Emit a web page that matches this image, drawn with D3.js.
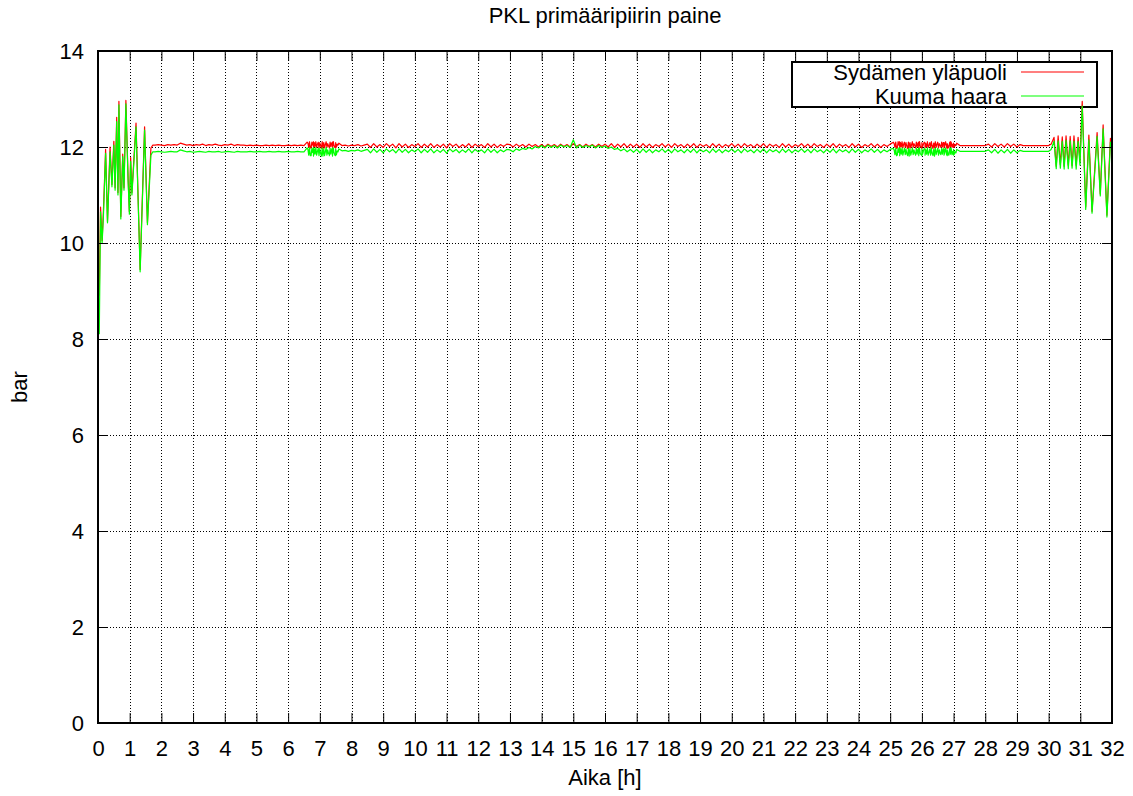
<!DOCTYPE html>
<html><head><meta charset="utf-8">
<script src="https://cdn.jsdelivr.net/npm/d3@7"></script>
<style>
body{margin:0;background:#fff}
text{font-family:"Liberation Sans",Arial,Helvetica,sans-serif;fill:#000}
</style>
</head><body>
<svg id="c" width="1133" height="796"></svg>
<script>
// ---------- labels ----------
const titleText = "PKL primääripiirin paine";
const xLabelText = "Aika [h]";
const yLabelText = "bar";
const seriesNames = ["Sydämen yläpuoli", "Kuuma haara"];
const seriesColors = ["#ff0000", "#00ff00"];

// ---------- ticks ----------
const xTickValues = [0,1,2,3,4,5,6,7,8,9,10,11,12,13,14,15,16,17,18,19,20,21,22,23,24,25,26,27,28,29,30,31,32];
const yTickValues = [0,2,4,6,8,10,12,14];

// ---------- start-up transient (0 - 1.75 h) ----------
const earlyTime  = [0.04,0.08,0.13,0.17,0.24,0.30,0.38,0.44,0.50,0.54,0.59,0.63,0.66,0.72,0.78,0.82,0.88,0.95,0.99,1.03,1.07,1.20,1.33,1.47,1.56,1.67,1.73];
const earlyRed   = [8.90,10.75,10.05,10.65,11.95,10.45,12.00,11.22,12.12,11.15,12.62,11.05,12.95,10.55,11.85,11.15,12.97,11.35,10.65,11.78,11.05,12.50,9.45,12.42,10.42,11.98,12.04];
const earlyGreen = [8.10,10.65,10.00,10.55,11.87,10.42,11.90,11.17,12.04,11.10,12.53,11.00,12.88,10.50,11.80,11.10,12.90,11.30,10.60,11.70,11.00,12.42,9.40,12.35,10.38,11.83,11.90];

// ---------- steady run, sampled every 0.1 h from 1.8 h to 30.0 h ----------
const midStart = 1.8, midStep = 0.1;
const midRed = [
 12.04,12.05,12.04,12.03,12.05,12.04,12.05,12.04,
 12.08,12.06,
 12.04,12.05,12.03,12.05,12.04,12.06,12.03,12.05,12.04,12.06,12.04,12.03,12.05,12.04,12.06,12.03,12.05,12.04,12.04,
 12.03,12.04,12.03,12.04,12.03,12.03,12.04,12.03,12.04,12.03,12.04,12.03,12.03,12.04,12.03,12.04,12.03,12.04,12.03,
 12.10,11.98,12.11,11.99,12.09,11.97,12.11,12.00,12.10,11.98,12.08,
 12.03,12.04,12.02,12.04,12.03,12.05,12.02,12.04,
 12.06,11.99,12.07,12.00,12.05,11.99,12.07,12.01,12.06,11.98,
 12.07,12.00,12.06,11.99,12.05,12.01,12.07,11.99,12.06,12.00,
 12.07,11.99,12.05,12.00,12.06,11.98,12.07,12.01,12.06,11.99,
 12.05,12.00,12.07,11.99,12.06,12.01,12.05,11.99,12.07,12.00,
 12.06,11.99,12.05,12.01,12.06,
 12.05,12.00,12.06,12.01,12.05,12.00,12.06,12.01,12.05,12.00,
 12.05,12.00,12.06,12.01,12.05,12.00,12.06,12.01,12.05,12.00,12.07,12.01,12.05,12.00,12.06,12.01,12.05,12.00,12.06,12.01,
 12.06,12.00,12.07,11.99,12.06,12.00,12.07,11.99,12.06,12.00,
 12.06,11.99,12.07,12.00,12.06,11.99,12.05,12.01,12.07,12.00,
 12.06,11.99,12.07,12.01,12.05,11.99,12.06,12.00,12.07,11.99,
 12.06,12.01,12.05,11.99,12.07,12.00,12.06,11.99,12.05,12.01,
 12.07,12.00,12.06,11.99,12.07,12.01,12.05,11.99,12.06,12.00,
 12.07,11.99,12.06,12.01,12.05,11.99,12.07,12.00,12.06,11.99,
 12.05,12.01,12.07,12.00,12.06,11.99,12.07,12.01,12.05,11.99,
 12.06,12.00,12.07,11.99,12.06,12.01,12.05,11.99,12.07,12.00,
 12.06,11.99,12.05,12.01,12.07,12.00,12.06,11.99,12.05,12.01,
 12.06,
 12.10,11.97,12.11,11.99,12.09,11.98,12.11,12.00,12.10,11.97,12.09,11.99,12.11,11.98,12.10,12.00,12.09,11.97,12.11,11.99,12.08,
 12.03,12.03,12.03,12.03,12.03,12.03,12.03,12.03,12.03,
 12.06,12.00,12.07,12.01,12.06,12.00,12.07,12.01,12.06,12.00,12.05,
 12.03,12.03,12.03,12.03,12.03,12.03,12.03,12.03,12.03
];
const midGreen = [
 11.90,11.91,11.90,11.89,11.90,11.91,11.90,11.90,
 11.94,11.92,
 11.90,11.91,11.89,11.90,11.91,11.90,11.89,11.91,11.90,11.90,11.91,11.89,11.90,11.91,11.90,11.89,11.91,11.90,11.90,
 11.90,11.91,11.90,11.90,11.91,11.90,11.90,11.91,11.90,11.90,11.91,11.90,11.90,11.91,11.90,11.90,11.91,11.90,11.90,
 11.98,11.82,11.99,11.83,11.97,11.81,11.99,11.84,11.98,11.82,11.96,
 11.92,11.93,11.91,11.93,11.92,11.94,11.91,11.93,
 11.95,11.88,11.96,11.89,11.95,11.88,11.96,11.90,11.95,11.88,
 11.96,11.89,11.95,11.88,11.94,11.90,11.96,11.88,11.95,11.89,
 11.96,11.88,11.94,11.89,11.95,11.87,11.96,11.90,11.95,11.88,
 11.94,11.89,11.96,11.88,11.95,11.90,11.94,11.88,11.96,11.89,
 11.95,11.88,11.94,11.90,11.95,
 11.94,11.90,11.96,11.93,11.97,11.95,11.99,11.96,12.01,11.98,
 12.03,11.98,12.04,11.99,12.03,11.98,12.04,12.00,12.03,11.99,12.15,11.98,12.04,11.99,12.03,12.00,12.04,11.98,12.03,11.99,
 12.02,11.97,12.00,11.95,11.97,11.92,11.96,11.90,11.95,11.89,
 11.95,11.88,11.96,11.89,11.95,11.88,11.94,11.90,11.96,11.89,
 11.95,11.88,11.96,11.90,11.94,11.88,11.95,11.89,11.96,11.88,
 11.95,11.90,11.94,11.88,11.96,11.89,11.95,11.88,11.94,11.90,
 11.96,11.89,11.95,11.88,11.96,11.90,11.94,11.88,11.95,11.89,
 11.96,11.88,11.95,11.90,11.94,11.88,11.96,11.89,11.95,11.88,
 11.94,11.90,11.96,11.89,11.95,11.88,11.96,11.90,11.94,11.88,
 11.95,11.89,11.96,11.88,11.95,11.90,11.94,11.88,11.96,11.89,
 11.95,11.88,11.94,11.90,11.96,11.89,11.95,11.88,11.94,11.90,
 11.95,
 11.97,11.82,11.98,11.83,11.96,11.81,11.98,11.84,11.97,11.82,11.96,11.83,11.98,11.81,11.97,11.84,11.96,11.82,11.98,11.83,11.95,
 11.91,11.91,11.91,11.91,11.91,11.91,11.91,11.91,11.91,
 11.94,11.88,11.95,11.87,11.94,11.88,11.95,11.87,11.94,11.88,11.93,
 11.91,11.91,11.91,11.91,11.91,11.91,11.91,11.91,11.91
];

// ---------- extra fast readings in the turbulent spells (every 0.025 h) ----------
const burstAStart = 6.625, burstBStart = 25.125, burstStep = 0.025;
const burstARed = [
 12.08,11.99,12.11,12.02,11.98,12.10,12.04,11.97,12.09,12.01,
 12.11,11.99,12.06,12.10,11.98,12.08,12.03,11.97,12.11,12.00,
 12.09,11.98,12.05,12.11,11.99,12.07,12.02,11.98,12.10,12.01,
 12.08,11.97,12.11,12.03,11.99,12.09,12.00,12.06,12.04
];
const burstAGreen = [
 11.95,11.83,11.99,11.86,11.82,11.97,11.88,11.81,11.96,11.85,
 11.99,11.83,11.91,11.97,11.82,11.95,11.87,11.81,11.98,11.84,
 11.96,11.82,11.90,11.99,11.83,11.94,11.86,11.82,11.97,11.85,
 11.95,11.81,11.98,11.88,11.83,11.96,11.84,11.92,11.90
];
const burstBRed = [
 12.07,11.99,12.10,12.02,11.98,12.11,12.04,11.97,12.09,12.00,
 12.11,11.98,12.06,12.10,11.99,12.08,12.02,11.97,12.10,12.01,
 12.09,11.98,12.05,12.11,11.99,12.07,12.03,11.98,12.10,12.00,
 12.08,11.97,12.11,12.02,11.99,12.09,12.01,12.06,12.10,11.98,
 12.07,12.00,12.11,11.99,12.04,12.09,11.98,12.10,12.02,11.97,
 12.08,12.01,12.11,11.99,12.06,12.10,11.98,12.07,12.03,11.99,
 12.10,12.00,12.09,11.98,12.05,12.11,12.00,12.07,12.02,11.98,
 12.09,12.01,12.10,11.99,12.06,12.08,12.00,12.05,12.03
];
const burstBGreen = [
 11.94,11.84,11.97,11.87,11.83,11.98,11.89,11.82,11.96,11.85,
 11.98,11.83,11.91,11.97,11.84,11.95,11.86,11.82,11.97,11.85,
 11.96,11.83,11.90,11.98,11.84,11.94,11.87,11.83,11.97,11.85,
 11.95,11.82,11.98,11.86,11.84,11.96,11.85,11.92,11.97,11.83,
 11.94,11.85,11.98,11.84,11.89,11.96,11.83,11.97,11.86,11.82,
 11.95,11.85,11.98,11.84,11.91,11.97,11.83,11.94,11.87,11.84,
 11.97,11.85,11.96,11.83,11.90,11.98,11.85,11.94,11.86,11.83,
 11.96,11.85,11.97,11.84,11.91,11.95,11.85,11.90,11.88
];

// ---------- shut-down oscillations (30 - 32 h) ----------
const lateTime  = [30.08,30.17,30.24,30.30,30.37,30.43,30.49,30.55,30.62,30.68,30.74,30.80,30.87,30.93,30.99,31.06,31.17,31.27,31.37,31.53,31.63,31.72,31.84,31.95,32.00];
const lateRed   = [12.06,12.20,11.60,12.23,11.63,12.21,11.60,12.23,11.62,12.22,11.61,12.23,11.62,12.20,11.70,12.95,10.75,12.25,10.66,12.30,11.02,12.46,10.58,12.18,12.00];
const lateGreen = [11.95,12.12,11.55,12.13,11.56,12.12,11.54,12.14,11.55,12.13,11.56,12.12,11.54,12.12,11.62,12.85,10.70,12.15,10.62,12.22,10.98,12.38,10.54,12.10,11.95];

// ---------- assemble (merge all readings, ordered by time) ----------
function assemble(early, mid, burstA, burstB, late) {
  const pts = [];
  earlyTime.forEach((t, i) => pts.push([t, early[i]]));
  mid.forEach((v, i) => pts.push([+(midStart + i * midStep).toFixed(3), v]));
  burstA.forEach((v, i) => pts.push([+(burstAStart + i * burstStep).toFixed(3), v]));
  burstB.forEach((v, i) => pts.push([+(burstBStart + i * burstStep).toFixed(3), v]));
  lateTime.forEach((t, i) => pts.push([t, late[i]]));
  return pts.sort((a, b) => a[0] - b[0]);
}
const seriesRed = assemble(earlyRed, midRed, burstARed, burstBRed, lateRed);
const seriesGreen = assemble(earlyGreen, midGreen, burstAGreen, burstBGreen, lateGreen);
const allSeries = [seriesRed, seriesGreen];

// ---------- layout ----------
const L = 98, R = 1112, T = 51, B = 723;
const FS = 22;
const svg = d3.select("#c");
const x = d3.scaleLinear().domain([0, 32]).range([L, R]);
const y = d3.scaleLinear().domain([0, 14]).range([B, T]);

// grid
const grid = svg.append("g").attr("stroke", "#000").attr("stroke-width", 1)
  .attr("stroke-dasharray", "1,2").attr("shape-rendering", "crispEdges");
grid.selectAll(".gx").data(xTickValues.filter(v => v > 0 && v < 32)).join("line")
  .attr("x1", d => Math.round(x(d)) + 0.5).attr("x2", d => Math.round(x(d)) + 0.5)
  .attr("y1", T).attr("y2", B);
grid.selectAll(".gy").data(yTickValues.filter(v => v > 0 && v < 14)).join("line")
  .attr("y1", d => Math.round(y(d)) + 0.5).attr("y2", d => Math.round(y(d)) + 0.5)
  .attr("x1", L).attr("x2", R);

// legend box (opaque)
const lg = { x0: 792, y0: 62, x1: 1097, y1: 107 };
svg.append("rect").attr("x", lg.x0).attr("y", lg.y0)
  .attr("width", lg.x1 - lg.x0).attr("height", lg.y1 - lg.y0)
  .attr("fill", "#fff").attr("stroke", "#000").attr("stroke-width", 2);

// data
const line = d3.line().x(d => x(d[0])).y(d => y(d[1]));
allSeries.forEach((s, k) => {
  svg.append("path").datum(s).attr("d", line).attr("fill", "none")
    .attr("stroke", seriesColors[k]).attr("stroke-width", 1.2)
    .attr("stroke-linejoin", "round");
});

// axes with inward ticks on all four sides
const axB = d3.axisBottom(x).tickValues(xTickValues).tickSize(-10).tickPadding(17).tickFormat(d3.format("d"));
const axL = d3.axisLeft(y).tickValues(yTickValues).tickSize(-10).tickPadding(14).tickFormat(d3.format("d"));
const axT = d3.axisTop(x).tickValues(xTickValues).tickSize(-10).tickFormat("");
const axR = d3.axisRight(y).tickValues(yTickValues).tickSize(-10).tickFormat("");
function styleAxis(g) {
  g.select(".domain").remove();
  g.selectAll("line").attr("stroke", "#000").attr("stroke-width", 1);
  g.selectAll("text").attr("font-size", FS).attr("font-family", "Liberation Sans, Arial, sans-serif").attr("fill", "#000");
}
svg.append("g").attr("transform", `translate(0,${B})`).call(axB).call(styleAxis);
svg.append("g").attr("transform", `translate(${L},0)`).call(axL).call(styleAxis);
svg.append("g").attr("transform", `translate(0,${T})`).call(axT).call(styleAxis);
svg.append("g").attr("transform", `translate(${R},0)`).call(axR).call(styleAxis);

// frame
svg.append("rect").attr("x", L).attr("y", T).attr("width", R - L).attr("height", B - T)
  .attr("fill", "none").attr("stroke", "#000").attr("stroke-width", 2);

// legend entries
const legendRows = [72, 96];
seriesNames.forEach((name, k) => {
  svg.append("text").attr("x", 1007).attr("y", legendRows[k]).attr("dy", "0.35em")
    .attr("text-anchor", "end").attr("font-size", FS).text(name);
  svg.append("line").attr("x1", 1021).attr("x2", 1084)
    .attr("y1", legendRows[k]).attr("y2", legendRows[k])
    .attr("stroke", seriesColors[k]).attr("stroke-width", 1.2);
});

// titles
svg.append("text").attr("x", 605).attr("y", 23).attr("text-anchor", "middle")
  .attr("font-size", FS).text(titleText);
svg.append("text").attr("x", 605).attr("y", 785).attr("text-anchor", "middle")
  .attr("font-size", FS).text(xLabelText);
svg.append("text").attr("transform", "translate(27,387) rotate(-90)")
  .attr("text-anchor", "middle").attr("font-size", FS).text(yLabelText);
</script>
</body></html>
